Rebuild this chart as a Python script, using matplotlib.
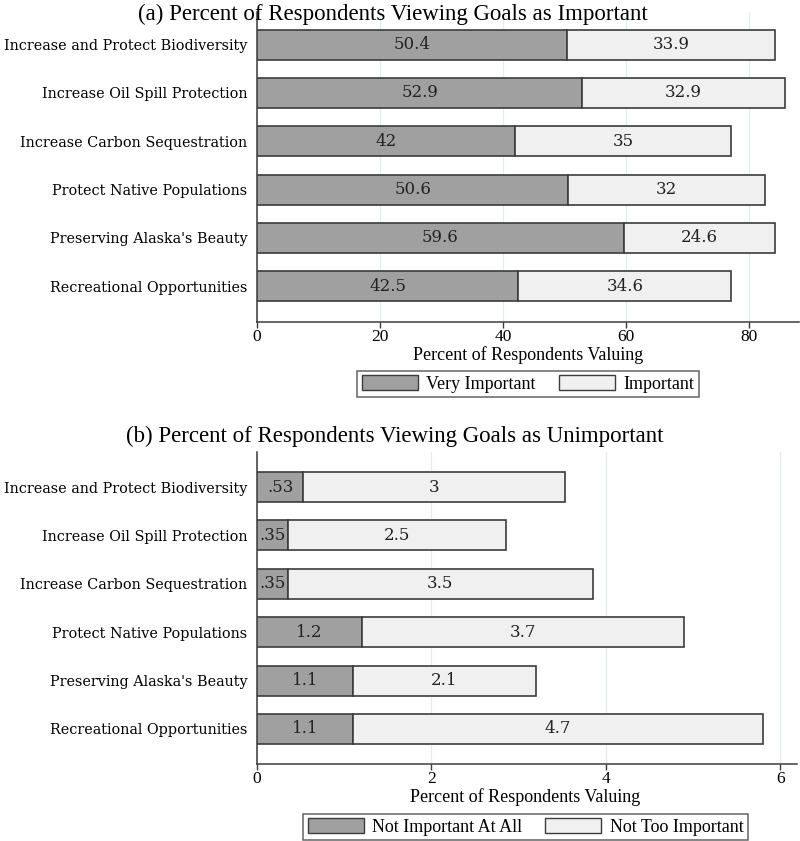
import matplotlib
matplotlib.use("Agg")
import matplotlib.pyplot as plt
from matplotlib.patches import Patch


# =========================
# DATA
# =========================

goals = [
    "Increase and Protect Biodiversity",
    "Increase Oil Spill Protection",
    "Increase Carbon Sequestration",
    "Protect Native Populations",
    "Preserving Alaska's Beauty",
    "Recreational Opportunities",
]

very_important = [50.4, 52.9, 42, 50.6, 59.6, 42.5]
important = [33.9, 32.9, 35, 32, 24.6, 34.6]

not_at_all = [0.53, 0.35, 0.35, 1.2, 1.1, 1.1]
not_too = [3, 2.5, 3.5, 3.7, 2.1, 4.7]

top_ticks = [0, 20, 40, 60, 80]
bottom_ticks = [0, 2, 4, 6]


# =========================
# STYLE
# =========================

W, H = 800, 841
DARK = "#a0a0a0"
LIGHT = "#f0f0f0"
EDGE = "#3c3c3c"
GRID = "#e3ecee"
SERIF_T = "Liberation Serif"
SERIF_D = "DejaVu Serif"


def fmt(v):
    s = f"{v:g}"
    if s.startswith("0."):
        s = s[1:]
    return s


def fx(px):
    return px / W


def fy(px):
    return 1 - px / H


def panel(ax, a, b, xmax, ticks, ylim, bar_h):
    y = list(range(len(goals)))
    ax.barh(y, a, height=bar_h, color=DARK, edgecolor=EDGE, linewidth=1.2, zorder=3)
    ax.barh(y, b, left=a, height=bar_h, color=LIGHT, edgecolor=EDGE,
            linewidth=1.2, zorder=3)
    for i in y:
        ax.text(a[i] / 2, i, fmt(a[i]), ha="center", va="center",
                fontsize=12, family=SERIF_D, color="#222222", zorder=4)
        ax.text(a[i] + b[i] / 2, i, fmt(b[i]), ha="center", va="center",
                fontsize=12, family=SERIF_D, color="#222222", zorder=4)

    ax.set_xlim(0, xmax)
    ax.set_ylim(*ylim)
    ax.set_yticks(y)
    ax.set_yticklabels(goals, family=SERIF_D, fontsize=10.4)
    ax.set_xticks(ticks)
    ax.set_xticklabels([str(t) for t in ticks], family=SERIF_T, fontsize=12.5)
    ax.tick_params(axis="y", length=0, pad=7)
    ax.tick_params(axis="x", length=4.5, width=1, color=EDGE, pad=0.5)
    for t in ticks:
        ax.axvline(t, color=GRID, linewidth=0.9, zorder=1)
    for s in ["top", "right"]:
        ax.spines[s].set_visible(False)
    for s in ["left", "bottom"]:
        ax.spines[s].set_color(EDGE)
        ax.spines[s].set_linewidth(1.1)


def legend(labels, center):
    leg = fig.legend(
        handles=[Patch(facecolor=DARK, edgecolor=EDGE, label=labels[0]),
                 Patch(facecolor=LIGHT, edgecolor=EDGE, label=labels[1])],
        loc="center", bbox_to_anchor=center, ncol=2, frameon=True,
        fancybox=False, prop={"family": SERIF_T, "size": 13},
        handlelength=3.1, handleheight=0.85, handletextpad=0.45,
        columnspacing=1.3, borderpad=0.25, borderaxespad=0,
    )
    leg.get_frame().set_edgecolor(EDGE)
    leg.get_frame().set_linewidth(1.1)
    return leg


fig = plt.figure(figsize=(W / 100, H / 100), dpi=100)
spacing = (286.3 - 44.5) / 5

# =========================
# PANEL (a)
# =========================

ax1 = fig.add_axes([fx(257), fy(322), fx(799 - 257), (322 - 12) / H])
panel(ax1, very_important, important, (799 - 257) / 6.15, top_ticks,
      (5 + (322 - 286.3) / spacing, -(44.5 - 12) / spacing), 30 / spacing)

fig.text(fx(393), fy(20), "(a) Percent of Respondents Viewing Goals as Important",
         ha="center", va="baseline", family=SERIF_T, fontsize=16.5)
fig.text(fx(528), fy(360), "Percent of Respondents Valuing",
         ha="center", va="baseline", family=SERIF_T, fontsize=13)
legend(["Very Important", "Important"], (fx(528), fy(384)))

# =========================
# PANEL (b)
# =========================

ax2 = fig.add_axes([fx(257), fy(764), fx(797 - 257), (764 - 452) / H])
panel(ax2, not_at_all, not_too, (797 - 257) / 87.2, bottom_ticks,
      (5 + (764 - 729) / spacing, -(487 - 452) / spacing), 30 / spacing)

fig.text(fx(395), fy(442), "(b) Percent of Respondents Viewing Goals as Unimportant",
         ha="center", va="baseline", family=SERIF_T, fontsize=16.5)
fig.text(fx(525), fy(802), "Percent of Respondents Valuing",
         ha="center", va="baseline", family=SERIF_T, fontsize=13)
legend(["Not Important At All", "Not Too Important"], (fx(525.5), fy(827)))

fig.savefig("out.png", dpi=100)
plt.close(fig)
print("Salvata figura: out.png")
